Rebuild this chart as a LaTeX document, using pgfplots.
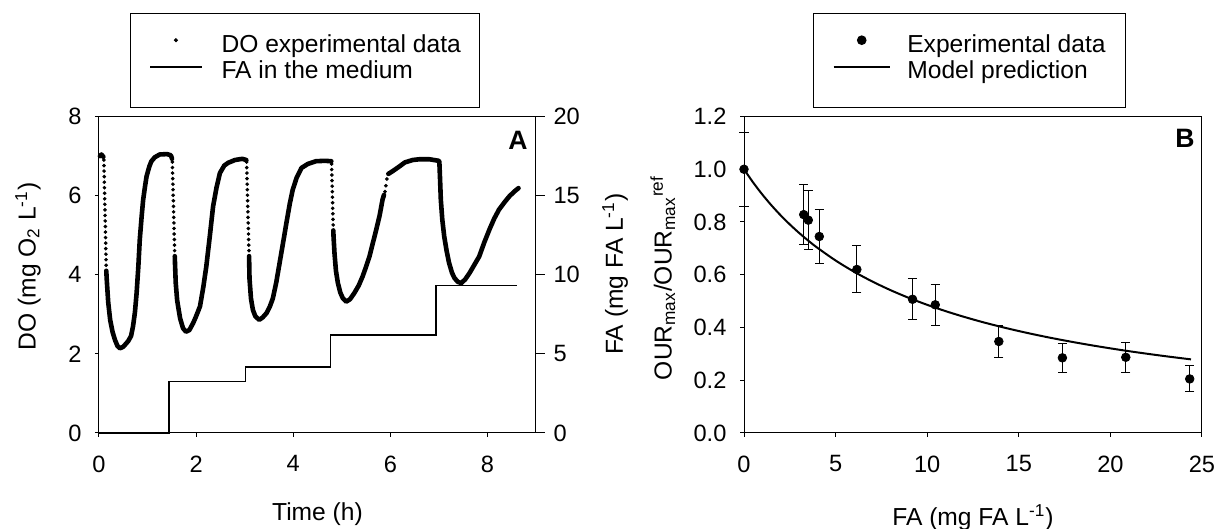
\documentclass[border=0pt]{standalone}
\usepackage{fontspec}
\setmainfont{Liberation Sans}
\usepackage{pgfplots}
\pgfplotsset{compat=1.18}
\usepackage{pgfplotstable}

\pgfplotstableread{
x y ey
0 1.000 0.14
3.26 0.828 0.115
3.51 0.807 0.113
4.11 0.745 0.104
6.16 0.620 0.089
9.20 0.507 0.078
10.44 0.486 0.077
13.91 0.347 0.062
17.38 0.285 0.056
20.84 0.287 0.056
24.33 0.205 0.049
}\expdata

\pgfplotstableread{
x y
0 1.0000
0.5 0.9497
1 0.9043
1.5 0.8630
2 0.8253
2.5 0.7908
3 0.7590
3.5 0.7297
4 0.7026
5 0.6540
6 0.6117
7 0.5745
8 0.5415
9 0.5122
10 0.4859
11 0.4621
12 0.4406
13 0.4209
14 0.4030
15 0.3865
16 0.3713
17 0.3573
18 0.3443
19 0.3322
20 0.3209
21 0.3103
22 0.3005
23 0.2912
24 0.2825
24.4 0.2792
}\modeldata

\pgfplotsset{
  legdotA/.style={legend image code/.code={\path[draw=none] (0pt,3.6pt) -- (25.8pt,3.6pt);\draw[##1] plot[only marks] coordinates {(12.9pt,3.6pt)};}},
  leglineA/.style={legend image code/.code={\draw[##1] (0pt,3.6pt) -- (25.8pt,3.6pt);}},
  legdotB/.style={legend image code/.code={\path[draw=none] (0pt,3.6pt) -- (28pt,3.6pt);\draw[##1] plot[only marks] coordinates {(14pt,3.6pt)};}},
  leglineB/.style={legend image code/.code={\draw[##1] (0pt,3.6pt) -- (28pt,3.6pt);}},
}

\begin{document}
\fontsize{12.3}{14.8}\selectfont
\begin{tikzpicture}
\useasboundingbox (0,0) rectangle (608.5pt,264.5pt);
\pgfplotsset{
  every axis/.append style={scale only axis, axis line style={line width=0.5pt, black},
    /pgf/number format/assume math mode=true, tick align=outside, major tick length=2pt,
    tick style={line width=0.5pt, black}, clip=false,
    tick label style={font=\fontsize{11.8}{14}\selectfont},
    xticklabel style={yshift=-5pt}},
}
% ---------------- Panel A ----------------
\begin{axis}[at={(49.5pt,48pt)}, anchor=south west, width=218.5pt, height=158.25pt,
  xmin=0, xmax=9, ymin=0, ymax=8, xtick={0,2,4,6,8}, ytick={0,2,4,6,8},
  xtick pos=bottom, ytick pos=left,
  yticklabel style={xshift=-2.5pt},
  xlabel={Time (h)}, ylabel={DO (mg O\textsubscript{2} L\textsuperscript{-1})},
  every axis x label/.style={at={(axis description cs:0.5,-0.255)}, anchor=center},
  every axis y label/.style={at={(axis description cs:-0.1625,0.526)}, anchor=center, rotate=90},
  legend cell align=left,
  legend style={at={(axis description cs:0.0715,1.326)}, anchor=north west, draw=black, line width=0.5pt,
    inner xsep=9.3pt, inner ysep=10.1pt, column sep=9.5pt, row sep=0pt,
    nodes={inner sep=0pt, text height=9pt, text depth=4.4pt}},
]
\addlegendimage{only marks, mark=*, mark size=0.75pt, black, legdotA}
\addlegendentry{DO experimental data}
\addlegendimage{black, line width=0.8pt, leglineA}
\addlegendentry{FA in the medium}

\pgfplotsset{dosolid/.style={black, line width=2.3pt, line join=round, line cap=round, forget plot}}
\addplot[dosolid] coordinates {(0.02,7.00) (0.05,7.04) (0.09,6.98)};
\addplot[dosolid] coordinates {(0.15,4.10) (0.16,3.87) (0.19,3.30) (0.23,2.86) (0.28,2.55) (0.33,2.35) (0.38,2.20) (0.43,2.14) (0.50,2.18) (0.60,2.32) (0.66,2.45) (0.70,2.69) (0.74,3.05) (0.775,3.54) (0.81,4.20) (0.84,4.89) (0.88,5.50) (0.91,5.90) (0.95,6.25) (0.98,6.49) (1.04,6.75) (1.08,6.87) (1.15,6.97) (1.25,7.04) (1.40,7.05) (1.48,7.02) (1.505,6.93)};
\addplot[dosolid] coordinates {(1.561,4.47) (1.565,4.30) (1.58,3.80) (1.61,3.35) (1.63,3.20) (1.67,2.90) (1.73,2.65) (1.79,2.56) (1.86,2.60) (1.94,2.78) (2.00,2.95) (2.08,3.20) (2.15,3.70) (2.21,4.21) (2.28,4.95) (2.35,5.73) (2.42,6.20) (2.49,6.57) (2.58,6.76) (2.66,6.83) (2.80,6.90) (2.95,6.93) (3.035,6.90)};
\addplot[dosolid] coordinates {(3.091,4.47) (3.10,3.90) (3.13,3.40) (3.17,3.11) (3.22,2.95) (3.30,2.86) (3.37,2.92) (3.45,3.03) (3.52,3.20) (3.58,3.40) (3.65,3.80) (3.72,4.30) (3.79,4.80) (3.86,5.31) (3.93,5.80) (3.99,6.15) (4.07,6.45) (4.17,6.70) (4.30,6.80) (4.47,6.87) (4.65,6.88) (4.785,6.87)};
\addplot[dosolid] coordinates {(4.826,5.12) (4.83,4.98) (4.85,4.55) (4.88,4.10) (4.92,3.79) (4.97,3.55) (5.02,3.41) (5.09,3.32) (5.17,3.38) (5.26,3.54) (5.35,3.73) (5.43,3.96) (5.50,4.20) (5.57,4.46) (5.64,4.80) (5.71,5.14) (5.78,5.50) (5.84,5.90) (5.87,6.02)};
\addplot[dosolid] coordinates {(5.96,6.55) (6.05,6.62) (6.19,6.74) (6.30,6.84) (6.46,6.90) (6.60,6.92) (6.80,6.92) (7.00,6.88) (7.01,6.85) (7.025,6.40) (7.04,5.90) (7.07,5.40) (7.11,4.97) (7.16,4.60) (7.21,4.30) (7.27,4.05) (7.32,3.92) (7.39,3.82) (7.46,3.79) (7.54,3.88) (7.63,4.04) (7.73,4.25) (7.83,4.46) (7.93,4.80) (8.04,5.14) (8.14,5.42) (8.24,5.65) (8.35,5.83) (8.45,5.98) (8.55,6.10) (8.64,6.19)};
% sparse dots of the fast DO drops
\addplot[black, only marks, mark=*, mark size=0.7pt, forget plot] coordinates {
(0.100,6.90) (0.103,6.76) (0.105,6.62) (0.108,6.48) (0.110,6.34) (0.113,6.20) (0.115,6.06) (0.118,5.92) (0.120,5.78) (0.123,5.64) (0.125,5.50) (0.128,5.36) (0.130,5.22) (0.133,5.08) (0.135,4.94) (0.138,4.80) (0.140,4.66) (0.143,4.52) (0.145,4.38) (0.148,4.24)
(1.510,6.85) (1.513,6.71) (1.516,6.57) (1.519,6.43) (1.522,6.29) (1.525,6.15) (1.528,6.01) (1.531,5.87) (1.534,5.73) (1.537,5.59) (1.540,5.45) (1.543,5.31) (1.546,5.17) (1.549,5.03) (1.552,4.89) (1.555,4.75) (1.558,4.61)
(3.040,6.85) (3.043,6.71) (3.046,6.57) (3.049,6.43) (3.052,6.29) (3.055,6.15) (3.058,6.01) (3.061,5.87) (3.064,5.73) (3.067,5.59) (3.070,5.45) (3.073,5.31) (3.076,5.17) (3.079,5.03) (3.082,4.89) (3.085,4.75) (3.088,4.61)
(4.790,6.80) (4.793,6.66) (4.796,6.52) (4.799,6.38) (4.802,6.24) (4.805,6.10) (4.808,5.96) (4.811,5.82) (4.814,5.68) (4.817,5.54) (4.820,5.40) (4.823,5.26)
(5.89,6.10) (5.91,6.25) (5.93,6.42)
};
\node[font=\bfseries\fontsize{13.3}{16}\selectfont] at (axis description cs:0.959,0.926) {A};
\end{axis}
% FA right axis
\begin{axis}[at={(49.5pt,48pt)}, anchor=south west, width=218.5pt, height=158.25pt,
  xmin=0, xmax=9, ymin=0, ymax=20, axis x line=none, axis y line*=right,
  ytick={0,5,10,15,20}, major tick length=4.5pt,
  ylabel={FA (mg FA L\textsuperscript{-1})},
  every axis y label/.style={at={(axis description cs:1.181,0.502)}, anchor=center, rotate=90},
]
\addplot[black, line width=0.8pt, line join=miter] coordinates {(0,0) (1.445,0) (1.445,3.25) (3.015,3.25) (3.015,4.18) (4.77,4.18) (4.77,6.2) (6.94,6.2) (6.94,9.32) (8.6,9.32)};
\end{axis}
% ---------------- Panel B ----------------
\begin{axis}[at={(372pt,48pt)}, anchor=south west, width=229pt, height=158.25pt,
  xmin=0, xmax=25, ymin=0, ymax=1.2, xtick={0,5,10,15,20,25}, ytick={0,0.2,0.4,0.6,0.8,1.0,1.2},
  yticklabel style={xshift=-2.5pt, /pgf/number format/.cd, fixed, fixed zerofill, precision=1},
  xtick pos=bottom, ytick pos=left,
  xlabel={FA (mg FA L\textsuperscript{-1})},
  ylabel={OUR\textsubscript{max}/OUR\textsubscript{max}\textsuperscript{ref}},
  every axis x label/.style={at={(axis description cs:0.5,-0.267)}, anchor=center},
  every axis y label/.style={at={(axis description cs:-0.177,0.49)}, anchor=center, rotate=90},
  legend cell align=left,
  legend style={at={(axis description cs:0.1503,1.326)}, anchor=north west, draw=black, line width=0.5pt,
    inner xsep=9.7pt, inner ysep=10.1pt, column sep=8.3pt, row sep=0pt,
    nodes={inner sep=0pt, text height=9pt, text depth=4.4pt}},
]
\addplot[black, only marks, mark=*, mark size=2.15pt, legdotB,
  error bars/.cd, y dir=both, y explicit,
  error bar style={line width=0.5pt, black},
  error mark options={rotate=90, mark size=2.3pt, line width=0.5pt, black}]
  table[x=x, y=y, y error=ey] {\expdata};
\addlegendentry{Experimental data}
\addplot[black, line width=1pt, smooth, leglineB]
  table[x=x, y=y] {\modeldata};
\addlegendentry{Model prediction}
\node[font=\bfseries\fontsize{13.3}{16}\selectfont] at (axis description cs:0.963,0.932) {B};
\end{axis}
\end{tikzpicture}
\end{document}
